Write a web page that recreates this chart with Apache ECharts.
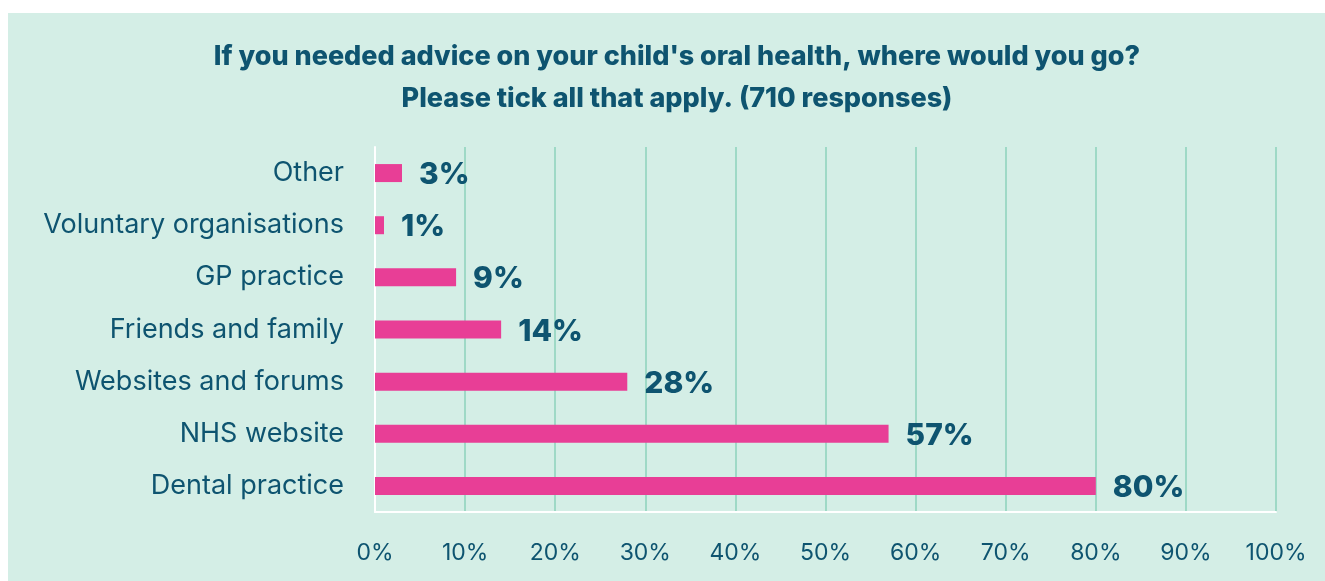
<!DOCTYPE html>
<html>
<head>
<meta charset="utf-8">
<script src="https://cdn.jsdelivr.net/npm/echarts@6/dist/echarts.min.js"></script>
<style>
  html, body { margin: 0; padding: 0; background: #ffffff; width: 1325px; height: 581px; overflow: hidden; }
  #chart { position: absolute; left: 8px; top: 13px; width: 1317px; height: 568px; background: #d4eee6; }
</style>
</head>
<body>
<div id="chart"></div>
<script>
// Survey answers, listed top to bottom as shown
const categories = ['Other', 'Voluntary organisations', 'GP practice', 'Friends and family', 'Websites and forums', 'NHS website', 'Dental practice'];
const percentages = [3, 1, 9, 14, 28, 57, 80];
const tickValues = [0, 10, 20, 30, 40, 50, 60, 70, 80, 90, 100];

const titleLines = [
  "If you needed advice on your child's oral health, where would you go?",
  'Please tick all that apply. (710 responses)'
];

const ink = '#0e5470';
const font = "Inter, 'DejaVu Sans', sans-serif";

const chart = echarts.init(document.getElementById('chart'));
chart.setOption({
  backgroundColor: 'transparent',
  animation: false,
  title: {
    text: titleLines.join('\n'),
    left: 664,
    top: 18,
    textAlign: 'center',
    textStyle: { color: ink, fontFamily: font, fontWeight: 800, fontSize: 27, lineHeight: 42 }
  },
  grid: { left: 367, top: 134, width: 901, height: 365, containLabel: false },
  xAxis: {
    type: 'value',
    min: tickValues[0],
    max: tickValues[tickValues.length - 1],
    interval: tickValues[1] - tickValues[0],
    axisLine: { show: true, lineStyle: { color: '#ffffff', width: 2 } },
    axisTick: { show: false },
    axisLabel: { color: ink, fontFamily: font, fontSize: 23, margin: 30, formatter: v => v + '%' },
    splitLine: { show: true, lineStyle: { color: '#9ed9c6', width: 2 } }
  },
  yAxis: {
    type: 'category',
    data: categories,
    inverse: true,
    axisLine: { show: true, lineStyle: { color: '#ffffff', width: 2 } },
    axisTick: { show: false },
    axisLabel: { color: ink, fontFamily: font, fontSize: 27, margin: 31 }
  },
  series: [{
    type: 'bar',
    data: percentages,
    barWidth: 18,
    itemStyle: { color: '#e83e96' },
    label: {
      show: true,
      position: 'right',
      distance: 17,
      offset: [0, 2],
      color: ink,
      fontFamily: font,
      fontWeight: 800,
      fontSize: 30,
      formatter: p => p.value + '%'
    }
  }]
});
</script>
</body>
</html>
